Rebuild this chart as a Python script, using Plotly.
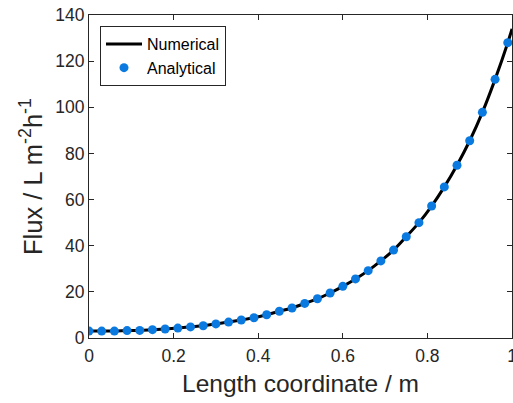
import plotly.graph_objects as go

# Analytical points
x_analytical = [0.00, 0.03, 0.06, 0.09, 0.12, 0.15, 0.18, 0.21, 0.24, 0.27,
                0.30, 0.33, 0.36, 0.39, 0.42, 0.45, 0.48, 0.51, 0.54, 0.57,
                0.60, 0.63, 0.66, 0.69, 0.72, 0.75, 0.78, 0.81, 0.84, 0.87,
                0.90, 0.93, 0.96, 0.99]
y_analytical = [3.0, 3.0, 3.0, 3.2, 3.3, 3.6, 3.9, 4.3, 4.8, 5.3,
                6.1, 6.9, 7.8, 8.8, 10.1, 11.6, 13.0, 15.0, 17.0, 19.5,
                22.4, 25.6, 29.2, 33.4, 38.1, 43.9, 50.0, 57.2, 65.5, 74.9,
                85.5, 97.8, 112.1, 128.0]

# Numerical solution
x_numerical = x_analytical + [1.00]
y_numerical = y_analytical + [134.0]

x_ticks = [0, 0.2, 0.4, 0.6, 0.8, 1]
x_tick_labels = ["0", "0.2", "0.4", "0.6", "0.8", "1"]
y_ticks = [0, 20, 40, 60, 80, 100, 120, 140]

fig = go.Figure()
fig.add_trace(go.Scatter(x=x_numerical, y=y_numerical, mode="lines",
                         name="Numerical", line=dict(color="black", width=3, shape="spline")))
fig.add_trace(go.Scatter(x=x_analytical, y=y_analytical, mode="markers",
                         name="Analytical", marker=dict(color="#0A7AE0", size=9)))

axis_common = dict(showline=True, linecolor="#262626", linewidth=1, mirror="ticks",
                   ticks="inside", ticklen=5, tickcolor="#262626", showgrid=False,
                   zeroline=False, automargin=False, ticklabeloverflow="allow",
                   tickfont=dict(family="Liberation Sans, Arial", size=17.5, color="#262626"))

fig.update_layout(
    width=513, height=403,
    margin=dict(l=89, r=1, t=15, b=65),
    paper_bgcolor="white", plot_bgcolor="white",
    font=dict(family="Liberation Sans, Arial", color="#262626"),
    xaxis=dict(range=[0, 1], tickvals=x_ticks, ticktext=x_tick_labels, ticklabelstandoff=2,
               title=dict(text="Length coordinate / m", font=dict(size=24.5), standoff=9),
               **axis_common),
    yaxis=dict(range=[0, 140], tickvals=y_ticks,
               title=dict(text="Flux / L m<sup>-2</sup>h<sup>-1</sup>", font=dict(size=25.5), standoff=5),
               **axis_common),
    legend=dict(x=0.026, y=0.966, xanchor="left", yanchor="top",
                bordercolor="#262626", borderwidth=1, bgcolor="white",
                font=dict(size=16, color="black"), tracegroupgap=0,
                itemwidth=36),
    showlegend=True,
)

fig.write_html("out.html", config={"displayModeBar": False},
               post_script="document.body.style.margin='0';document.body.style.overflow='hidden';")
